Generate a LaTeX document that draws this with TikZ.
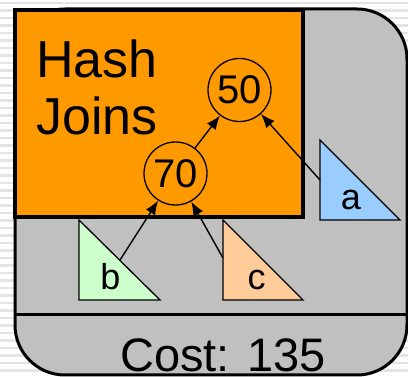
\documentclass[tikz,border=0pt]{standalone}
\usepackage{fontspec}
\setmainfont{Liberation Sans}
\usetikzlibrary{arrows.meta}

\definecolor{planbg}{HTML}{C0C0C0}
\definecolor{hashbox}{HTML}{FF9900}
\definecolor{relA}{HTML}{99CCFF}
\definecolor{relB}{HTML}{CCFFCC}
\definecolor{relC}{HTML}{FFCC99}
\definecolor{stripe}{HTML}{E4E4E4}

\tikzset{
  joinop/.style={draw, circle, line width=1.3pt, minimum size=63pt, inner sep=0pt,
    font=\fontsize{40}{40}\selectfont},
  relation/.style={draw, line width=1.3pt},
  rellabel/.style={anchor=base, inner sep=0pt, font=\fontsize{36}{36}\selectfont},
  feed/.style={-{Latex[length=14pt,width=11pt]}, line width=1.4pt},
}

\begin{document}
\begin{tikzpicture}[x=1pt,y=-1pt]
    \useasboundingbox (0,0) rectangle (408,377);
    \begin{scope}
        \clip (0,0) rectangle (408,377);
        \foreach \y in {3,10.5,...,377}
            \draw[stripe, line width=2.5pt] (0,\y) -- (408,\y);
        \draw[fill=planbg, line width=3pt, rounded corners=50pt] (15,9) rectangle (407,375);
        \draw[line width=3pt] (15,315) -- (408,315);
    \end{scope}
    \draw[fill=hashbox, line width=3.5pt] (15,10) rectangle (303,217);
    \node[anchor=base west, inner sep=0pt, align=left, font=\fontsize{52}{57}\selectfont]
        (title) at (36,135) {Hash\\Joins};
    \node[anchor=base, inner sep=0pt, font=\fontsize{47}{47}\selectfont]
        (cost) at (223,372) {Cost: 135};

    \node[joinop] (j50) at (239.5,90) {50};
    \node[joinop] (j70) at (175.5,173.5) {70};

    \draw[relation, fill=relA] (320,140) -- (320,220) -- (400,220) -- cycle;
    \draw[relation, fill=relB] (79,220) -- (79,300) -- (160,300) -- cycle;
    \draw[relation, fill=relC] (223,220) -- (223,300) -- (303,300) -- cycle;
    \node[rellabel] (ra) at (351,210) {a};
    \node[rellabel] (rb) at (110.5,290) {b};
    \node[rellabel] (rc) at (256.5,290) {c};
    \coordinate (fa) at (320,180);
    \coordinate (fb) at (120,260);
    \coordinate (fc) at (223,258);

    \draw[feed] (fa) -- (j50);
    \draw[feed] (j70) -- (j50);
    \draw[feed] (fb) -- (j70);
    \draw[feed] (fc) -- (j70);
\end{tikzpicture}
\end{document}
